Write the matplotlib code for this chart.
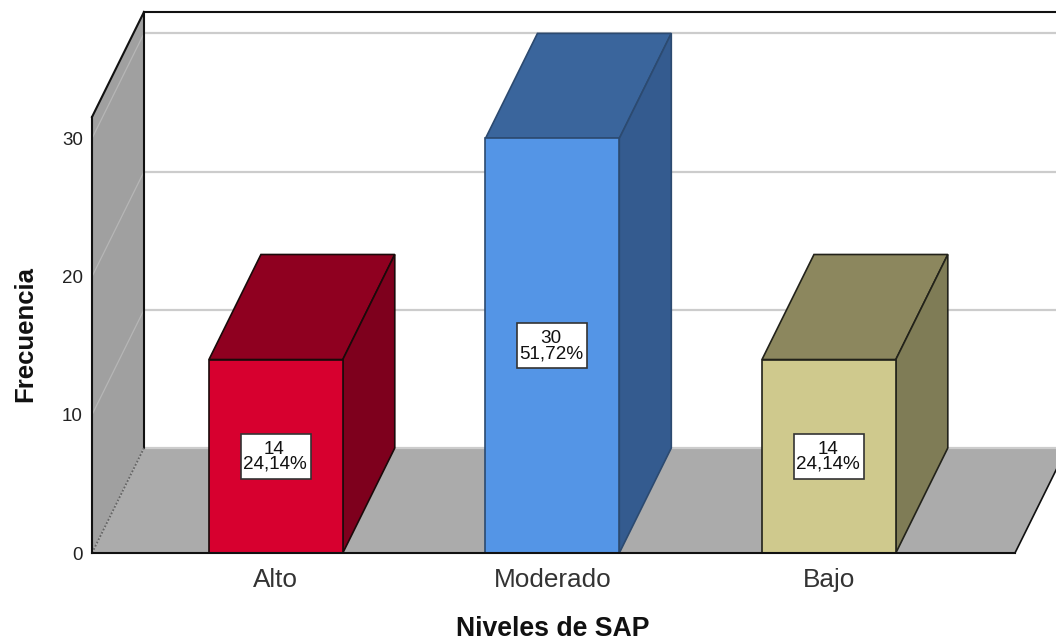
import matplotlib
matplotlib.use("Agg")
import matplotlib.pyplot as plt
from matplotlib.patches import Rectangle

plt.rcParams['font.family'] = ['Liberation Sans', 'DejaVu Sans']

categories = ["Alto", "Moderado", "Bajo"]
counts = [14, 30, 14]
percents = ["24,14%", "51,72%", "24,14%"]
y_ticks = [0, 10, 20, 30]
front_colors = ["#d7002f", "#5495e6", "#cfc98d"]
top_colors = ["#8f0020", "#3a659c", "#8c875e"]
side_colors = ["#7e001d", "#345b8f", "#7f7c56"]
edge_colors = ["#1a0a0a", "#2c4a70", "#22221a"]

W, H = 1056, 642
fig = plt.figure(figsize=(W / 100, H / 100), dpi=100, facecolor="white")
ax = fig.add_axes([92 / W, (H - 553) / H, (1015 - 92) / W, (553 - 117) / H])
ax.set_facecolor("none")

XMIN, XMAX = -0.665, 2.673
YMAX = 31.55
DX, DY = 0.188, 7.6      # oblique depth of the 3-D box, in data units
BAR_W = 0.484
ax.set_xlim(XMIN, XMAX)
ax.set_ylim(0, YMAX)

# floor and left wall
ax.fill([XMIN, XMAX, XMAX + DX, XMIN + DX], [0, 0, DY, DY], color="#ababab", lw=0, zorder=1, clip_on=False)
ax.fill([XMIN, XMIN + DX, XMIN + DX, XMIN], [0, DY, YMAX + DY, YMAX], color="#a0a0a0", lw=0, zorder=1, clip_on=False)

# gridlines on the back wall and the left wall
for t in y_ticks:
    ax.plot([XMIN + DX, XMAX + DX], [t + DY, t + DY], color="#cccccc", lw=1.6, zorder=2, clip_on=False)
    if t > 0:
        ax.plot([XMIN, XMIN + DX], [t, t + DY], color="#b6b6b6", lw=0.9, zorder=2, clip_on=False)

# frame of the box
ax.plot([XMIN, XMIN + DX], [YMAX, YMAX + DY], color="#111111", lw=1.5, zorder=3, clip_on=False)
ax.plot([XMIN + DX, XMIN + DX], [DY, YMAX + DY], color="#111111", lw=1.5, zorder=3, clip_on=False)
ax.plot([XMIN + DX, XMAX + DX], [YMAX + DY, YMAX + DY], color="#111111", lw=1.5, zorder=3, clip_on=False)
ax.plot([XMIN, XMIN + DX], [0, DY], color="#666666", lw=1.3, ls=(0, (1, 1)), zorder=3, clip_on=False)
ax.plot([XMAX, XMAX + DX], [0, DY], color="#111111", lw=1.2, zorder=3, clip_on=False)

# bars
for i, v in enumerate(counts):
    l, r = i - BAR_W / 2, i + BAR_W / 2
    ec = edge_colors[i]
    ax.fill([l, r, r + DX, l + DX], [v, v, v + DY, v + DY], facecolor=top_colors[i], edgecolor=ec, lw=1.2, zorder=4, clip_on=False)
    ax.fill([r, r + DX, r + DX, r], [0, DY, v + DY, v], facecolor=side_colors[i], edgecolor=ec, lw=1.2, zorder=4, clip_on=False)
    ax.bar(i, v, width=BAR_W, color=front_colors[i], edgecolor=ec, lw=1.2, zorder=5, clip_on=False)
    ax.add_patch(Rectangle((i - 0.1265, v / 2 - 1.63), 0.253, 3.26, facecolor="white", edgecolor="#333333", lw=1.2, zorder=6))
    ax.text(i - 0.005, v / 2 - 0.05, f"{v}\n{percents[i]}", ha="center", va="center", fontsize=13.6,
            linespacing=0.85, color="#111111", zorder=7)

# axes
ax.set_xticks(range(len(categories)), categories)
ax.set_yticks(y_ticks)
ax.tick_params(axis="x", length=0, pad=11, labelsize=18.8, labelcolor="#333333")
ax.tick_params(axis="y", length=0, pad=6.5, labelsize=13.5, labelcolor="#222222")
for s in ("top", "right"):
    ax.spines[s].set_visible(False)
for s in ("left", "bottom"):
    ax.spines[s].set_linewidth(1.5)
    ax.spines[s].set_color("#111111")
    ax.spines[s].set_zorder(8)

fig.text(553 / W, 1 - 629 / H, "Niveles de SAP", ha="center", va="center", fontsize=19.2, fontweight="bold", color="#111111")
fig.text(25 / W, 1 - 334.5 / H, "Frecuencia", ha="center", va="center", rotation=90, fontsize=18.5, fontweight="bold", color="#111111")

fig.savefig("out.png", dpi=100, facecolor="white")
